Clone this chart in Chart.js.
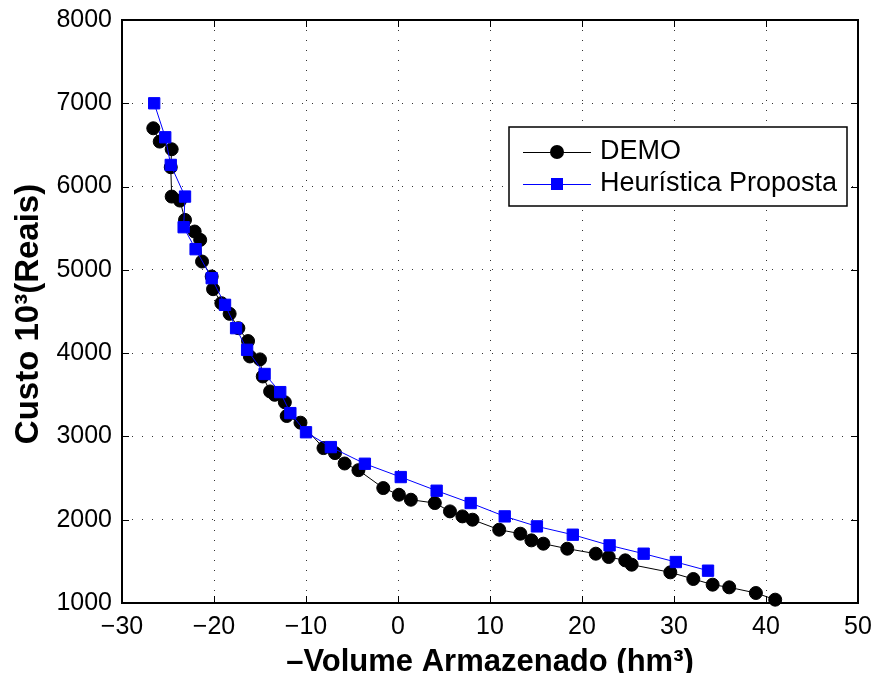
<!DOCTYPE html>
<html>
<head>
<meta charset="utf-8">
<script src="https://cdn.jsdelivr.net/npm/chart.js@4/dist/chart.umd.min.js"></script>
<style>
  html, body { margin: 0; padding: 0; background: #fff; }
  canvas { display: block; }
</style>
</head>
<body>
<canvas id="grafico" width="875" height="673" style="width:875px;height:673px"></canvas>
<script>
// dados
const demoX = [-26.6, -25.9, -24.6, -24.7, -24.6, -23.7, -23.15, -22.1, -21.5, -21.3, -20.25, -20.1, -19.2, -18.3, -17.35, -16.3, -16.1, -15.0, -14.7, -13.9, -13.4, -12.3, -12.1, -10.6, -8.1, -6.85, -5.8, -4.3, -1.6, 0.1, 1.4, 4.0, 5.65, 7.0, 8.1, 11.0, 13.3, 14.5, 15.8, 18.4, 21.5, 22.9, 24.7, 25.4, 29.6, 32.1, 34.2, 36.0, 38.9, 41.0];
const demoY = [6700, 6540, 6448, 6232, 5880, 5832, 5600, 5460, 5360, 5100, 4920, 4768, 4600, 4472, 4300, 4145, 3960, 3925, 3720, 3540, 3500, 3410, 3245, 3165, 2860, 2800, 2675, 2595, 2380, 2300, 2240, 2200, 2100, 2040, 2000, 1880, 1832, 1752, 1712, 1652, 1592, 1552, 1512, 1460, 1368, 1288, 1220, 1188, 1120, 1040];

const heurX = [-26.5, -25.3, -24.7, -23.15, -23.3, -22.0, -20.25, -18.8, -17.6, -16.4, -14.5, -12.8, -11.7, -10.0, -7.3, -3.6, 0.3, 4.2, 7.9, 11.6, 15.1, 19.0, 23.0, 26.7, 30.2, 33.7];
const heurY = [7000, 6592, 6260, 5880, 5512, 5248, 4900, 4580, 4300, 4040, 3750, 3532, 3280, 3050, 2872, 2672, 2512, 2348, 2200, 2040, 1920, 1820, 1692, 1592, 1492, 1388];

const seriesNames = ["DEMO", "Heurística Proposta"];
const xTitle = "\u2013Volume Armazenado (hm³)";
const yTitle = "Custo 10³(Reais)";

const fonte = "'Liberation Sans', Arial, Helvetica, sans-serif";

function pares(xs, ys) {
    return xs.map((x, i) => ({ x: x, y: ys[i] }));
}

// moldura, marcas internas, títulos e legenda estilo MATLAB
const estiloMatlab = {
    id: "estiloMatlab",
    beforeDatasetsDraw(chart) {
        const ctx = chart.ctx;
        const a = chart.chartArea;
        const sx = chart.scales.x;
        const sy = chart.scales.y;
        const tl = 7;
        ctx.save();
        ctx.strokeStyle = "#000";
        ctx.lineWidth = 1;
        ctx.beginPath();
        sx.ticks.forEach((t) => {
            const px = Math.round(sx.getPixelForValue(t.value)) + 0.5;
            ctx.moveTo(px, a.bottom); ctx.lineTo(px, a.bottom - tl);
            ctx.moveTo(px, a.top); ctx.lineTo(px, a.top + tl);
        });
        sy.ticks.forEach((t) => {
            const py = Math.round(sy.getPixelForValue(t.value)) + 0.5;
            ctx.moveTo(a.left, py); ctx.lineTo(a.left + tl, py);
            ctx.moveTo(a.right, py); ctx.lineTo(a.right - tl, py);
        });
        ctx.stroke();
        ctx.lineWidth = 2;
        ctx.strokeRect(a.left, a.top, a.right - a.left, a.bottom - a.top);
        ctx.restore();
    },
    afterDraw(chart) {
        const ctx = chart.ctx;
        const a = chart.chartArea;
        ctx.save();
        ctx.fillStyle = "#000";

        // título do eixo x
        ctx.font = "bold 31px " + fonte;
        ctx.textAlign = "center";
        ctx.textBaseline = "alphabetic";
        ctx.fillText(xTitle, (a.left + a.right) / 2, 671);

        // título do eixo y
        ctx.save();
        ctx.translate(38, 314);
        ctx.rotate(-Math.PI / 2);
        ctx.font = "bold 33px " + fonte;
        ctx.fillText(yTitle, 0, 0);
        ctx.restore();

        // legenda
        const lx = 509, ly = 127, lw = 338, lh = 79;
        ctx.fillStyle = "#fff";
        ctx.fillRect(lx, ly, lw, lh);
        ctx.strokeStyle = "#000";
        ctx.lineWidth = 1.5;
        ctx.strokeRect(lx, ly, lw, lh);

        const linhas = [152, 184];
        chart.data.datasets.forEach((ds, i) => {
            const y = linhas[i];
            ctx.strokeStyle = ds.borderColor;
            ctx.lineWidth = 1;
            ctx.beginPath();
            ctx.moveTo(523, y + 0.5);
            ctx.lineTo(591, y + 0.5);
            ctx.stroke();
            ctx.fillStyle = ds.pointBackgroundColor;
            if (ds.pointStyle === "circle") {
                ctx.beginPath();
                ctx.arc(557, y, 7, 0, Math.PI * 2);
                ctx.fill();
            } else {
                ctx.fillRect(551, y - 6, 12, 12);
            }
            ctx.fillStyle = "#000";
            ctx.font = "27px " + fonte;
            ctx.textAlign = "left";
            ctx.textBaseline = "middle";
            ctx.fillText(ds.label, 600, y);
        });
        ctx.restore();
    },
};

const ctx = document.getElementById("grafico").getContext("2d");
new Chart(ctx, {
    type: "scatter",
    data: {
        datasets: [
            {
                label: seriesNames[0],
                data: pares(demoX, demoY),
                showLine: true,
                borderColor: "#000000",
                borderWidth: 1,
                pointStyle: "circle",
                pointRadius: 6.5,
                pointBackgroundColor: "#000000",
                pointBorderColor: "#000000",
                pointBorderWidth: 1,
                order: 2,
                clip: false,
            },
            {
                label: seriesNames[1],
                data: pares(heurX, heurY),
                showLine: true,
                borderColor: "#0000ff",
                borderWidth: 1,
                pointStyle: "rect",
                pointRadius: 8,
                pointBackgroundColor: "#0000ff",
                pointBorderColor: "#0000ff",
                pointBorderWidth: 1,
                order: 1,
                clip: false,
            },
        ],
    },
    options: {
        responsive: false,
        animation: false,
        events: [],
        layout: { padding: { top: 20, right: 17, left: 0, bottom: 0 } },
        plugins: {
            legend: { display: false },
            tooltip: { enabled: false },
        },
        scales: {
            x: {
                type: "linear",
                min: -30,
                max: 50,
                ticks: {
                    stepSize: 10,
                    color: "#000",
                    padding: 9,
                    maxRotation: 0,
                    font: { size: 25, family: fonte },
                    callback: (v) => (v < 0 ? "\u2212" + Math.abs(v) : String(v)),
                },
                grid: { color: "rgba(0,0,0,0.8)", lineWidth: 1, drawTicks: false },
                border: { display: false, dash: [1, 9] },
                afterFit: (s) => {
                    s.height = 70;
                    s.paddingLeft = 0;
                    s.paddingRight = 0;
                },
            },
            y: {
                type: "linear",
                min: 1000,
                max: 8000,
                ticks: {
                    stepSize: 1000,
                    color: "#000",
                    padding: 10,
                    font: { size: 25, family: fonte },
                    callback: (v) => String(v),
                },
                grid: { color: "rgba(0,0,0,0.8)", lineWidth: 1, drawTicks: false },
                border: { display: false, dash: [1, 9] },
                afterFit: (s) => {
                    s.width = 122;
                    s.paddingTop = 0;
                    s.paddingBottom = 0;
                },
            },
        },
    },
    plugins: [estiloMatlab],
});
</script>
</body>
</html>
